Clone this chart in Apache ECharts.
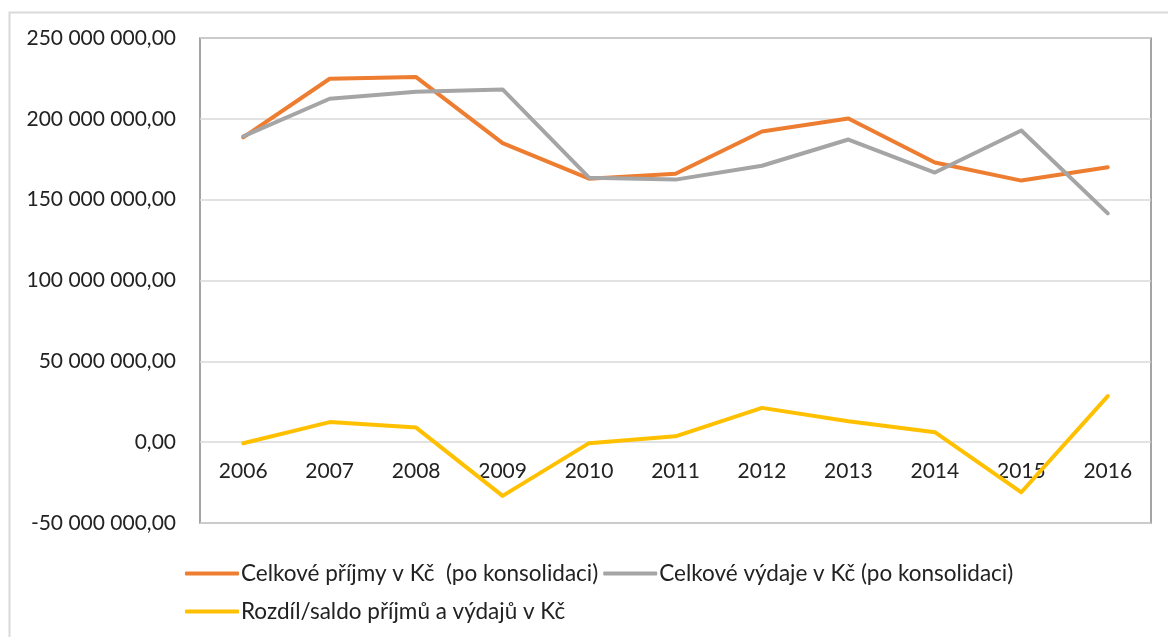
<!DOCTYPE html>
<html><head><meta charset="utf-8">
<script src="https://cdn.jsdelivr.net/npm/echarts@6/dist/echarts.min.js"></script>
<style>html,body{margin:0;padding:0;background:#fff}#c{width:1168px;height:637px}</style>
</head><body><div id="c"></div>
<script>
const categories = ['2006','2007','2008','2009','2010','2011','2012','2013','2014','2015','2016'];
const prijmy = [188.5e6, 224.8e6, 225.8e6, 185.0e6, 163.0e6, 166.0e6, 192.2e6, 200.2e6, 173.0e6, 161.8e6, 170.0e6];
const vydaje = [189.2e6, 212.4e6, 216.8e6, 218.2e6, 163.6e6, 162.4e6, 171.0e6, 187.2e6, 166.8e6, 192.8e6, 141.5e6];
const saldo  = [-0.7e6, 12.4e6, 9.0e6, -33.2e6, -0.6e6, 3.6e6, 21.2e6, 13.0e6, 6.2e6, -31.0e6, 28.5e6];
const names = ['Celkové příjmy v Kč  (po konsolidaci)', 'Celkové výdaje v Kč (po konsolidaci)', 'Rozdíl/saldo příjmů a výdajů v Kč'];
const colors = ['#ED7D31', '#A5A5A5', '#FFC000'];
const FONT = 'Lato';
function fmt(v){
  const neg = v < 0; let s = String(Math.abs(Math.round(v)));
  s = s.replace(/\B(?=(\d{3})+(?!\d))/g, ' ');
  return (neg ? '-' : '') + s + ',00';
}
const chart = echarts.init(document.getElementById('c'));
const mk = (i, d) => ({name: names[i], type: 'line', data: d, symbol: 'none', smooth: false,
  lineStyle: {color: colors[i], width: 4, cap: 'round', join: 'round'}, itemStyle: {color: colors[i]}});
const legCommon = {icon: 'roundRect', itemWidth: 54, itemHeight: 4, itemGap: 5, padding: 0,
  textStyle: {fontSize: 22.5, color: '#222', fontFamily: FONT, padding: [0, 0, 0, -3]}};
chart.setOption({
  animation: false,
  textStyle: {fontFamily: FONT},
  graphic: [{type: 'rect', shape: {x: 9.5, y: 12.5, width: 1170, height: 640}, style: {fill: 'none', stroke: '#d9d9d9', lineWidth: 2}, z: -1}],
  grid: {left: 200, right: 17, top: 38, bottom: 114, show: true, borderColor: '#868686', borderWidth: 1.5},
  xAxis: {type: 'category', data: categories, boundaryGap: true, position: 'bottom', offset: -80,
    axisLine: {show: false, onZero: false}, axisTick: {show: false},
    axisLabel: {color: '#222', fontSize: 21, fontFamily: FONT, margin: 18}},
  yAxis: {type: 'value', min: -50e6, max: 250e6, interval: 50e6,
    axisLine: {show: false}, axisTick: {show: false},
    splitLine: {lineStyle: {color: '#d9d9d9', width: 1.5}},
    axisLabel: {color: '#222', fontSize: 21, fontFamily: FONT, margin: 24, formatter: fmt}},
  legend: [
    Object.assign({data: [names[0], names[1]], left: 185, top: 562}, legCommon),
    Object.assign({data: [names[2]], left: 185, top: 600}, legCommon)
  ],
  series: [mk(0, prijmy), mk(1, vydaje), mk(2, saldo)]
});
</script></body></html>
